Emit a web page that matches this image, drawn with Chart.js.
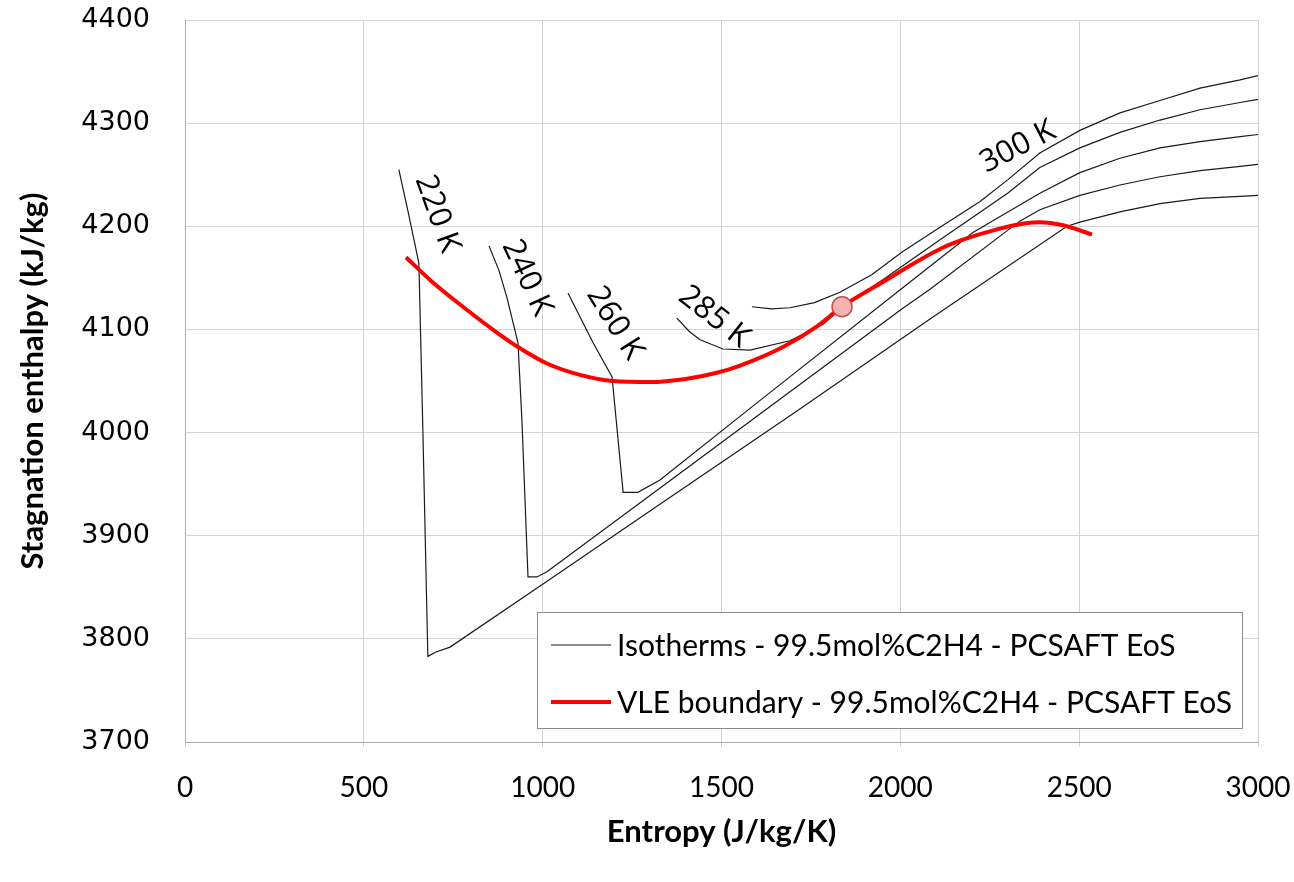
<!DOCTYPE html>
<html>
<head>
<meta charset="utf-8">
<title>Stagnation enthalpy vs entropy</title>
<script src="https://cdn.jsdelivr.net/npm/chart.js@4.4.1/dist/chart.umd.min.js"></script>
<style>
  html, body { margin: 0; padding: 0; background: #ffffff; }
  #chart { display: block; }
</style>
</head>
<body>
<canvas id="chart" width="1294" height="882"></canvas>
<script>
// Isotherms (entropy J/kg/K, stagnation enthalpy kJ/kg)
const iso220S = [598, 625, 654, 665, 679, 700, 741, 1000, 1300, 1711, 2083, 2466, 2502, 2614, 2726, 2838, 2950, 3000];
const iso220H = [4255, 4212, 4164, 4003, 3783, 3787, 3792, 3853, 3924, 4021, 4110, 4200, 4204, 4214, 4222, 4227, 4229, 4230];

const iso240S = [850, 878, 900, 931, 942, 959, 984, 1012, 1300, 1600, 2005, 2083, 2334, 2390, 2502, 2614, 2726, 2838, 2950, 3000];
const iso240H = [4181, 4157, 4131, 4087, 4012, 3860, 3860, 3865, 3939, 4016, 4120, 4139, 4205, 4216, 4230, 4240, 4248, 4254, 4258, 4260];

const iso260S = [1071, 1141, 1194, 1225, 1266, 1328, 1607, 2005, 2203, 2390, 2502, 2614, 2726, 2838, 2950, 3000];
const iso260H = [4135, 4087, 4054, 3942, 3942, 3954, 4031, 4140, 4194, 4232, 4252, 4266, 4276, 4282, 4287, 4289];

const iso285S = [1375, 1410, 1440, 1504, 1580, 1691, 1784, 1837, 1950, 2111, 2300, 2390, 2502, 2614, 2726, 2838, 2950, 3000];
const iso285H = [4111, 4098, 4090, 4081, 4080, 4089, 4105, 4121, 4148, 4187, 4232, 4257, 4276, 4291, 4303, 4313, 4320, 4323];

const iso300S = [1585, 1640, 1691, 1760, 1831, 1920, 2005, 2111, 2223, 2300, 2390, 2502, 2614, 2726, 2838, 2950, 3000];
const iso300H = [4122, 4120, 4121, 4126, 4136, 4153, 4175, 4199, 4224, 4245, 4271, 4293, 4310, 4322, 4334, 4342, 4346];

// VLE boundary
const vleS = [618, 685, 777, 872, 931, 1012, 1104, 1197, 1300, 1400, 1487, 1552, 1672, 1767, 1837, 1951, 2111, 2175, 2270, 2350, 2390, 2455, 2536];
const vleH = [4170, 4148, 4122, 4097, 4083, 4067, 4056, 4050, 4049, 4052, 4058, 4065, 4083, 4103, 4122, 4146, 4178, 4187, 4197, 4203, 4204, 4201, 4192];

// highlighted point on the boundary
const markS = [1837];
const markH = [4122];

const isoNames = ['220 K', '240 K', '260 K', '285 K', '300 K'];
const xTicks = [0, 500, 1000, 1500, 2000, 2500, 3000];
const yTicks = [3700, 3800, 3900, 4000, 4100, 4200, 4300, 4400];

const isoLegend = 'Isotherms - 99.5mol%C2H4 - PCSAFT EoS';
const vleLegend = 'VLE boundary - 99.5mol%C2H4 - PCSAFT EoS';

// where the isotherm names sit (data coords) and their rotation
const isoLabelPos = [
    { s: 705, h: 4212, rot: 70 },
    { s: 956, h: 4150, rot: 65 },
    { s: 1202, h: 4106, rot: 58 },
    { s: 1479, h: 4112, rot: 38 },
    { s: 2329, h: 4277, rot: -27 }
];

function pts(xs, ys) {
    return xs.map((x, i) => ({ x: x, y: ys[i] }));
}

const isoSets = [
    [iso220S, iso220H], [iso240S, iso240H], [iso260S, iso260H],
    [iso285S, iso285H], [iso300S, iso300H]
].map((p, i) => ({
    label: i === 0 ? isoLegend : isoNames[i],
    data: pts(p[0], p[1]),
    showLine: true,
    borderColor: '#1a1a1a',
    borderWidth: 1.2,
    pointRadius: 0,
    tension: 0,
    order: 3
}));

// isotherm name labels
const isoLabelPlugin = {
    id: 'isoLabels',
    afterDatasetsDraw(chart) {
        const ctx = chart.ctx;
        const xs = chart.scales.x, ys = chart.scales.y;
        ctx.save();
        ctx.fillStyle = '#000000';
        ctx.font = '31px "Open Sans", sans-serif';
        ctx.textAlign = 'center';
        ctx.textBaseline = 'middle';
        isoLabelPos.forEach((p, i) => {
            ctx.save();
            ctx.translate(xs.getPixelForValue(p.s), ys.getPixelForValue(p.h));
            ctx.rotate(p.rot * Math.PI / 180);
            ctx.fillText(isoNames[i], 0, 0);
            ctx.restore();
        });
        ctx.restore();
    }
};

// boxed legend inside the plot
const boxLegendPlugin = {
    id: 'boxLegend',
    afterDraw(chart) {
        const ctx = chart.ctx;
        const box = { x: 537.5, y: 612.5, w: 705, h: 116 };
        ctx.save();
        ctx.fillStyle = '#ffffff';
        ctx.fillRect(box.x, box.y, box.w, box.h);
        ctx.strokeStyle = '#8c8c8c';
        ctx.lineWidth = 1;
        ctx.strokeRect(box.x, box.y, box.w, box.h);

        const rows = [
            { text: isoLegend, color: '#1a1a1a', width: 1.2, y: 645 },
            { text: vleLegend, color: '#ff0000', width: 4, y: 702 }
        ];
        ctx.font = '30px Lato, sans-serif';
        ctx.textBaseline = 'middle';
        ctx.textAlign = 'left';
        rows.forEach(r => {
            ctx.beginPath();
            ctx.strokeStyle = r.color;
            ctx.lineWidth = r.width;
            ctx.moveTo(551, r.y);
            ctx.lineTo(611, r.y);
            ctx.stroke();
            ctx.fillStyle = '#000000';
            ctx.fillText(r.text, 617, r.y + 1);
        });
        ctx.restore();
    }
};

const ctx = document.getElementById('chart').getContext('2d');
const chart = new Chart(ctx, {
    type: 'scatter',
    data: {
        datasets: [{
            label: 'marker',
            data: pts(markS, markH),
            pointRadius: 10,
            pointBackgroundColor: '#f4b3b3',
            pointBorderColor: '#c0504d',
            pointBorderWidth: 1.5,
            showLine: false,
            order: 1
        }, {
            label: vleLegend,
            data: pts(vleS, vleH),
            showLine: true,
            borderColor: '#ff0000',
            borderWidth: 4,
            pointRadius: 0,
            cubicInterpolationMode: 'monotone',
            order: 2
        }].concat(isoSets)
    },
    options: {
        responsive: false,
        animation: false,
        events: [],
        layout: { padding: { left: 0, right: 36, top: 20, bottom: 0 } },
        plugins: {
            legend: { display: false },
            tooltip: { enabled: false }
        },
        scales: {
            x: {
                type: 'linear',
                min: 0,
                max: 3000,
                afterBuildTicks: s => { s.ticks = xTicks.map(v => ({ value: v })); },
                ticks: {
                    color: '#000000',
                    font: { family: 'Lato, sans-serif', size: 28 },
                    padding: 24,
                    maxRotation: 0,
                    callback: v => String(v)
                },
                grid: { color: '#d4d4d4', lineWidth: 1, tickLength: 5 },
                border: { color: '#ababab' },
                title: {
                    display: true,
                    text: 'Entropy (J/kg/K)',
                    color: '#000000',
                    font: { family: 'Lato, sans-serif', size: 31, weight: 'bold' },
                    padding: { top: 0, bottom: 31 }
                },
                afterFit: s => {
                    s.height = 140;
                    s.paddingLeft = 0;
                    s.paddingRight = 0;
                }
            },
            y: {
                type: 'linear',
                min: 3700,
                max: 4400,
                afterBuildTicks: s => { s.ticks = yTicks.map(v => ({ value: v })); },
                ticks: {
                    color: '#000000',
                    font: { family: '"DejaVu Sans", sans-serif', size: 27 },
                    padding: 35,
                    callback: v => String(v)
                },
                grid: { color: '#d4d4d4', lineWidth: 1, drawTicks: false },
                border: { color: '#ababab' },
                title: {
                    display: true,
                    text: 'Stagnation enthalpy (kJ/kg)',
                    color: '#000000',
                    font: { family: 'Lato, sans-serif', size: 31, weight: 'bold' },
                    padding: { top: 14, bottom: 0 }
                },
                afterFit: s => {
                    s.width = 185;
                    s.paddingTop = 0;
                    s.paddingBottom = 0;
                }
            }
        }
    },
    plugins: [isoLabelPlugin, boxLegendPlugin]
});
</script>
</body>
</html>
